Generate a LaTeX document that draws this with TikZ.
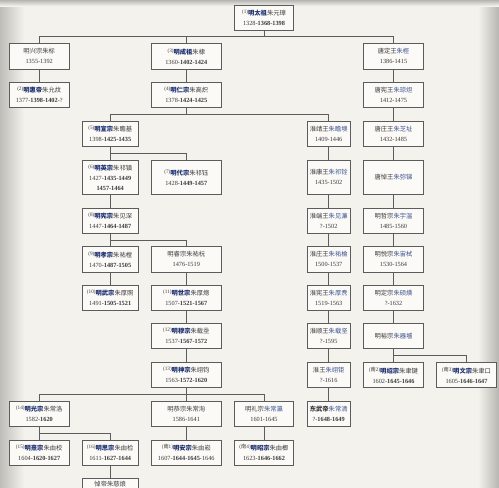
\documentclass[tikz,border=0pt]{standalone}
\usepackage{fontspec}
\setmainfont{Liberation Serif}
\newfontfamily\cjk{Noto Sans CJK SC}

\definecolor{bgcol}{HTML}{F4F2EC}
\definecolor{boxfill}{HTML}{FBFAF7}
\definecolor{linecol}{HTML}{5C5C5C}
\definecolor{txtcol}{HTML}{3A3A3A}
\definecolor{empblue}{HTML}{1C2E6E}
\definecolor{pnblue}{HTML}{3E5290}

\newcommand\seqno[1]{\raisebox{.6ex}{\fontsize{5.2}{6}\selectfont(#1)}}
\newcommand\tname[1]{{\cjk\bfseries\color{empblue}#1}}
\newcommand\pname[1]{{\cjk\color{pnblue}#1}}
\newcommand\zh[1]{{\cjk #1}}

\tikzset{
  person/.style={draw=linecol, fill=boxfill, line width=0.8pt, minimum width=#1,
    minimum height=25.3pt, inner sep=0pt, align=center, text=txtcol,
    font=\fontsize{6.3}{10}\selectfont},
  tallperson/.style={person=#1, minimum height=34.7pt},
  link/.style={draw=linecol, line width=0.7pt},
}

\begin{document}
\begin{tikzpicture}[x=1pt,y=-1pt]
\useasboundingbox (0,0) rectangle (499,488);
\fill[bgcol] (0,0) rectangle (499,488);
\shade[left color=black!22!bgcol, right color=bgcol] (0,0) rectangle (24,488); % left edge
\shade[left color=bgcol, right color=black!25!bgcol] (478,0) rectangle (499,488); % right edge
\shade[top color=black!25!bgcol, bottom color=bgcol] (0,0) rectangle (499,6);

% first generations
\node[person=59.3pt] (taizu) at (264,17.7) {\seqno{1}\tname{明太祖}\zh{朱元璋}\\1328-\textbf{1368-1398}};
\node[person=59.7pt] (xingzong) at (39.2,56.3) {\zh{明兴宗朱标}\\1355-1392};
\node[person=69.3pt] (chengzu) at (186.3,56.3) {\seqno{3}\tname{明成祖}\zh{朱棣}\\1360-\textbf{1402-1424}};
\node[person=59.7pt] (tangding) at (393.5,56.3) {\zh{唐定王}\pname{朱桱}\\1386-1415};
\node[person=59.7pt] (huidi) at (39.2,95) {\seqno{2}\tname{明惠帝}\zh{朱允炆}\\1377-\textbf{1398-1402}-?};
\node[person=69.3pt] (renzong) at (186.3,95) {\seqno{4}\tname{明仁宗}\zh{朱高炽}\\1378-\textbf{1424-1425}};
\node[person=59.7pt] (tangxian) at (393.5,95) {\zh{唐宪王}\pname{朱琼炟}\\1412-1475};

% main line
\node[person=56.3pt] (xuanzong) at (110.2,133.7) {\seqno{5}\tname{明宣宗}\zh{朱瞻基}\\1398-\textbf{1425-1435}};
\node[tallperson=56.3pt] (yingzong) at (110.2,177.3) {\seqno{6}\tname{明英宗}\zh{朱祁镇}\\1427-\textbf{1435-1449}\\\textbf{1457-1464}};
\node[tallperson=69.3pt] (daizong) at (186.3,177.3) {\seqno{7}\tname{明代宗}\zh{朱祁钰}\\1428-\textbf{1449-1457}};
\node[person=56.3pt] (xianzong) at (110.2,220.7) {\seqno{8}\tname{明宪宗}\zh{朱见深}\\1447-\textbf{1464-1487}};
\node[person=56.3pt] (xiaozong) at (110.2,259.3) {\seqno{9}\tname{明孝宗}\zh{朱祐樘}\\1470-\textbf{1487-1505}};
\node[person=69.3pt] (ruizong) at (186.3,259.3) {\zh{明睿宗朱祐杬}\\1476-1519};
\node[person=56.3pt] (wuzong) at (110.2,297.7) {\seqno{10}\tname{明武宗}\zh{朱厚照}\\1491-\textbf{1505-1521}};
\node[person=69.3pt] (shizong) at (186.3,297.7) {\seqno{11}\tname{明世宗}\zh{朱厚熜}\\1507-\textbf{1521-1567}};
\node[person=69.3pt] (muzong) at (186.3,336) {\seqno{12}\tname{明穆宗}\zh{朱载坖}\\1537-\textbf{1567-1572}};
\node[person=69.3pt] (shenzong) at (186.3,375) {\seqno{13}\tname{明神宗}\zh{朱翊钧}\\1563-\textbf{1572-1620}};
\node[person=59.7pt] (guangzong) at (39.2,414) {\seqno{14}\tname{明光宗}\zh{朱常洛}\\1582-\textbf{1620}};
\node[person=69.3pt] (gongzong) at (186.3,414) {\zh{明恭宗朱常洵}\\1586-1641};
\node[person=59.3pt] (lizong) at (264,414) {\zh{明礼宗}\pname{朱常瀛}\\1601-1645};
\node[person=59.7pt] (xizong) at (39.2,452.7) {\seqno{15}\tname{明熹宗}\zh{朱由校}\\1604-\textbf{1620-1627}};
\node[person=56.3pt] (sizong) at (110.2,452.7) {\seqno{16}\tname{明思宗}\zh{朱由检}\\1611-\textbf{1627-1644}};
\node[person=69.3pt] (anzong) at (186.3,452.7) {\seqno{\zh{南}1}\tname{明安宗}\zh{朱由崧}\\1607-\textbf{1644-1645}-1646};
\node[person=59.3pt] (zhaozong) at (264,452.7) {\seqno{\zh{南}4}\tname{明昭宗}\zh{朱由榔}\\1623-\textbf{1646-1662}};
\node[person=56.3pt, anchor=north, text depth=16pt] (daodi) at (110.2,478.3) {\zh{悼帝朱慈烺}};

% huai line
\node[person=43.3pt] (huaijing) at (328.7,133.7) {\zh{淮靖王}\pname{朱瞻墺}\\1409-1446};
\node[tallperson=43.3pt] (huaikang) at (328.7,177.3) {\zh{淮康王}\pname{朱祁铨}\\1435-1502};
\node[person=43.3pt] (huaiduan) at (328.7,220.7) {\zh{淮端王}\pname{朱见濂}\\?-1502};
\node[person=43.3pt] (huaizhuang) at (328.7,259.3) {\zh{淮庄王}\pname{朱祐棆}\\1500-1537};
\node[person=43.3pt] (huaixian) at (328.7,297.7) {\zh{淮宪王}\pname{朱厚焘}\\1519-1563};
\node[person=43.3pt] (huaishun) at (328.7,336) {\zh{淮顺王}\pname{朱载坚}\\?-1595};
\node[person=43.3pt] (huaiwang) at (328.7,375) {\zh{淮王}\pname{朱翊钜}\\?-1616};
\node[person=43.3pt] (dongwu) at (328.7,414) {{\cjk\bfseries 东武帝}\pname{朱常清}\\?-\textbf{1648-1649}};

% tang line
\node[person=59.7pt] (tangzhuang) at (393.5,133.7) {\zh{唐庄王}\pname{朱芝址}\\1432-1485};
\node[tallperson=59.7pt] (tangdao) at (393.5,177.3) {\zh{唐悼王}\pname{朱弥锑}};
\node[person=59.7pt] (zhezong) at (393.5,220.7) {\zh{明哲宗}\pname{朱宇温}\\1485-1560};
\node[person=59.7pt] (yuezong) at (393.5,259.3) {\zh{明悦宗}\pname{朱宙栻}\\1530-1564};
\node[person=59.7pt] (dingzong) at (393.5,297.7) {\zh{明定宗}\pname{朱硕熿}\\?-1632};
\node[person=59.7pt] (yuzong) at (393.5,336) {\zh{明裕宗}\pname{朱器墭}};
\node[person=59.7pt] (shaozong) at (393.5,375) {\seqno{\zh{南}2}\tname{明绍宗}\zh{朱聿键}\\1602-\textbf{1645-1646}};
\node[person=60.3pt] (wenzong) at (466.5,375) {\seqno{\zh{南}3}\tname{明文宗}\zh{朱聿口}\\1605-\textbf{1646-1647}};

% branch points
\coordinate (b0) at (264,36.7);
\coordinate (b1) at (186.3,114.3);
\coordinate (b2) at (110.2,153.3);
\coordinate (b3) at (110.2,240);
\coordinate (b4) at (186.3,394.3);
\coordinate (b5) at (39.2,433.3);
\coordinate (b6) at (393.5,355.7);

\draw[link] (taizu.south) -- (b0);
\draw[link] (xingzong.north) |- (b0) -| (tangding.north);
\draw[link] (b0) -| (chengzu.north);
\draw[link] (renzong.south) -- (b1);
\draw[link] (xuanzong.north) |- (b1) -| (huaijing.north);
\draw[link] (xuanzong.south) -- (b2) -| (daizong.north);
\draw[link] (b2) -- (yingzong.north);
\draw[link] (xianzong.south) -- (b3) -| (ruizong.north);
\draw[link] (b3) -- (xiaozong.north);
\draw[link] (shenzong.south) -- (b4);
\draw[link] (guangzong.north) |- (b4) -| (lizong.north);
\draw[link] (b4) -- (gongzong.north);
\draw[link] (guangzong.south) -- (b5) -| (sizong.north);
\draw[link] (b5) -- (xizong.north);
\draw[link] (yuzong.south) -- (b6) -| (wenzong.north);
\draw[link] (b6) -- (shaozong.north);

% straight descents
\draw[link] (xingzong) -- (huidi);
\draw[link] (chengzu) -- (renzong);
\draw[link] (yingzong) -- (xianzong);
\draw[link] (xiaozong) -- (wuzong);
\draw[link] (ruizong) -- (shizong);
\draw[link] (shizong) -- (muzong);
\draw[link] (muzong) -- (shenzong);
\draw[link] (sizong) -- (daodi);
\draw[link] (gongzong) -- (anzong);
\draw[link] (lizong) -- (zhaozong);
\draw[link] (huaijing) -- (huaikang);
\draw[link] (huaikang) -- (huaiduan);
\draw[link] (huaiduan) -- (huaizhuang);
\draw[link] (huaizhuang) -- (huaixian);
\draw[link] (huaixian) -- (huaishun);
\draw[link] (huaishun) -- (huaiwang);
\draw[link] (huaiwang) -- (dongwu);
\draw[link] (tangding) -- (tangxian);
\draw[link] (tangxian) -- (tangzhuang);
\draw[link] (tangzhuang) -- (tangdao);
\draw[link] (tangdao) -- (zhezong);
\draw[link] (zhezong) -- (yuezong);
\draw[link] (yuezong) -- (dingzong);
\draw[link] (dingzong) -- (yuzong);
\end{tikzpicture}
\end{document}
